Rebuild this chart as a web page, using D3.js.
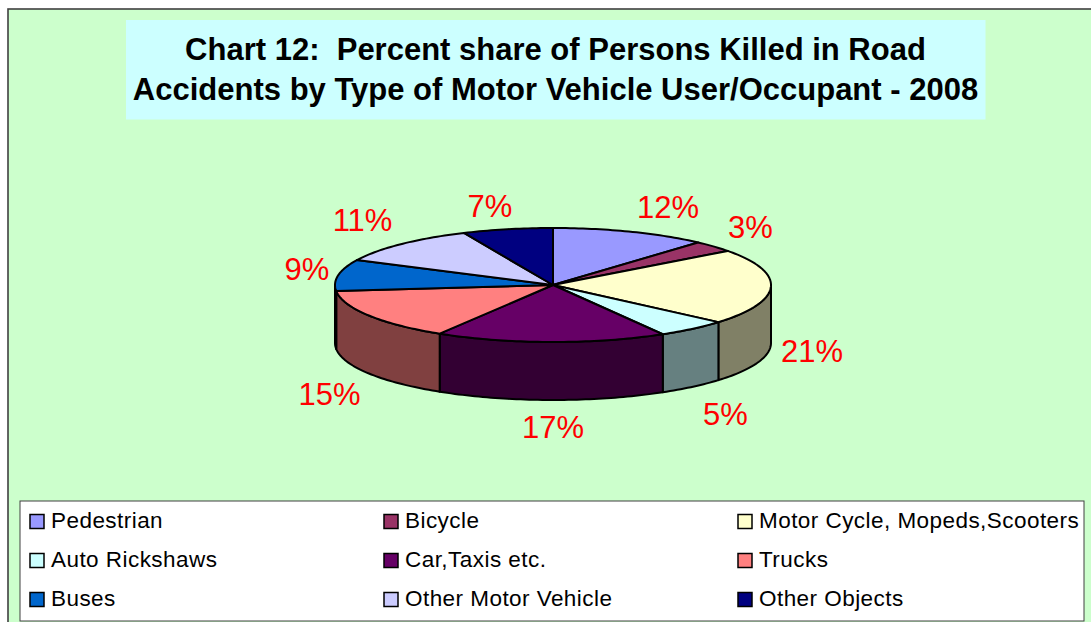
<!DOCTYPE html>
<html><head><meta charset="utf-8">
<script src="https://cdn.jsdelivr.net/npm/d3@7"></script>
<style>html,body{margin:0;padding:0;background:#fff}svg{display:block}text{font-family:"Liberation Sans",Arial,sans-serif}</style>
</head><body><div id="c"></div>
<script>
const categories=["Pedestrian","Bicycle","Motor Cycle, Mopeds,Scooters","Auto Rickshaws","Car,Taxis etc.","Trucks","Buses","Other Motor Vehicle","Other Objects"];
const shares=[11.6,3.2,21.49,5.31,17.1,14.6,8.9,11.1,6.7];
const topColors=["#9999FF","#993366","#FFFFCC","#CCFFFF","#660066","#FF8080","#0066CC","#CCCCFF","#000080"];
const sideColors=["#4D4D80","#4D1A33","#808066","#668080","#330033","#804040","#003366","#666680","#000040"];
const labelAnchors=[[668,207],[750.5,227],[812,351],[725.5,414],[553,427],[329.5,394],[307,269],[362.5,220],[490,206]];
const titleLines=["Chart 12:  Percent share of Persons Killed in Road","Accidents by Type of Motor Vehicle User/Occupant - 2008"];

const W=1091,H=622,cx=553,cy=285,rx=218,ry=57,depth=58;
const svg=d3.select("#c").append("svg").attr("width",W).attr("height",H);
svg.append("rect").attr("x",8).attr("y",9).attr("width",1090).attr("height",620).attr("fill","#CCFFCC").attr("stroke","#404040").attr("stroke-width",1.6);
svg.append("rect").attr("x",126).attr("y",20).attr("width",859.5).attr("height",99.5).attr("fill","#CCFFFF");
svg.selectAll("text.title").data(titleLines).join("text").attr("class","title")
  .attr("x",555.5).attr("y",(d,i)=>59.5+i*40.5).attr("text-anchor","middle").attr("font-weight","bold").attr("font-size",31).style("white-space","pre").text(d=>d);

const arcs=d3.pie().sort(null).value(d=>d)(shares);
const px=a=>cx+rx*Math.sin(a), py=a=>cy-ry*Math.cos(a);
const arcPts=(a0,a1,dy=0)=>{const n=Math.max(2,Math.ceil((a1-a0)/0.02));return d3.range(n+1).map(i=>{const a=a0+(a1-a0)*i/n;return [px(a),py(a)+dy];});};
const line=d3.line();
const g=svg.append("g");
arcs.forEach((d,i)=>{
  const a0=Math.max(d.startAngle,Math.PI/2),a1=Math.min(d.endAngle,Math.PI*1.5);
  if(a1<=a0)return;
  const pts=arcPts(a0,a1).concat(arcPts(a0,a1,depth).reverse());
  g.append("path").attr("d",line(pts)+"Z").attr("fill",sideColors[i]).attr("stroke","#000").attr("stroke-width",2).attr("stroke-linejoin","round");
});
arcs.forEach((d,i)=>{
  const pts=[[cx,cy]].concat(arcPts(d.startAngle,d.endAngle));
  g.append("path").attr("d",line(pts)+"Z").attr("fill",topColors[i]).attr("stroke","#000").attr("stroke-width",2).attr("stroke-linejoin","round");
});
svg.selectAll("text.lab").data(arcs).join("text").attr("class","lab")
  .attr("x",(d,i)=>labelAnchors[i][0]).attr("y",(d,i)=>labelAnchors[i][1]+11)
  .attr("text-anchor","middle").attr("font-size",31).attr("fill","#FF0000")
  .text(d=>Math.round(d.value)+"%");

svg.append("rect").attr("x",20).attr("y",501).attr("width",1064).attr("height",120).attr("fill","#fff").attr("stroke","#404040").attr("stroke-width",1);
const colX=[30,384,738],rowY=[520,559,598];
const leg=svg.selectAll("g.leg").data(categories).join("g").attr("class","leg")
  .attr("transform",(d,i)=>`translate(${colX[i%3]},${rowY[Math.floor(i/3)]})`);
leg.append("rect").attr("x",0).attr("y",-5.5).attr("width",14).attr("height",14).attr("fill",(d,i)=>topColors[i]).attr("stroke","#000").attr("stroke-width",1.5);
leg.append("text").attr("x",21).attr("y",7.5).attr("font-size",22.5).attr("letter-spacing",0.45).attr("fill","#000").text(d=>d);
</script></body></html>
